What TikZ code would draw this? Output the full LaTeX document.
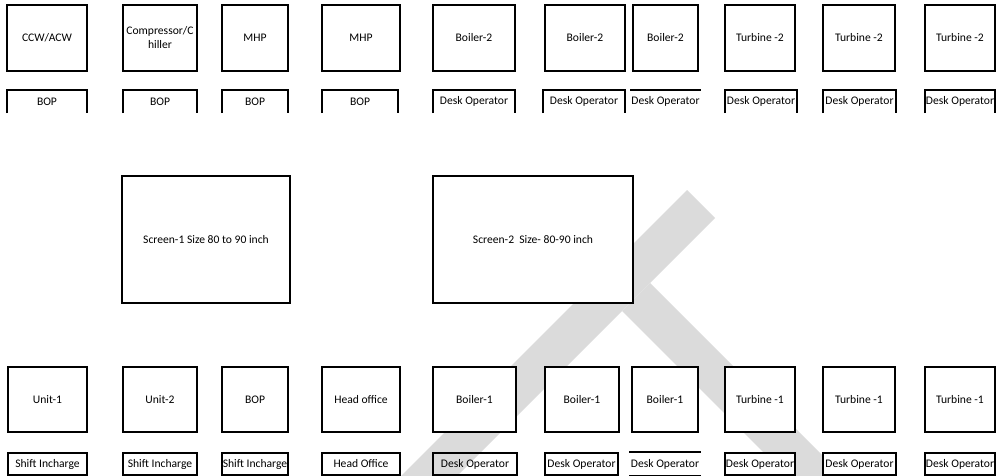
\documentclass[tikz,border=0pt]{standalone}
\usepackage{fontspec}
\setmainfont{Carlito}
\begin{document}
\begin{tikzpicture}[x=1pt,y=-1pt,
  txt/.style={inner sep=1pt, align=center, font=\fontsize{11.6}{14}\selectfont, text=black},
  box/.style={txt, draw=black, line width=1.6pt, fill=white},
  big/.style={box, minimum height=66pt},
  small/.style={txt, fill=white, minimum height=23pt},
  low/.style={box, minimum height=65pt},
  lows/.style={box, minimum height=22pt},
  screen/.style={box, minimum height=127pt},
  edge/.style={draw=black, line width=1.6pt},
  wm/.style={fill=black!14, draw=none}]
\useasboundingbox (0,0) rectangle (1006,476);
% watermark
\fill[wm] (687,190) -- (715,218) -- (457,476) -- (401,476) -- cycle;
\fill[wm] (650,283) -- (843,476) -- (787,476) -- (622,311) -- cycle;
% top row
\node[big, minimum width=80pt] (t1) at (47,38) {CCW/ACW};
\node[big, minimum width=74pt] (t2) at (160,38) {Compressor/C\\hiller};
\node[big, minimum width=66pt] (t3) at (255,38) {MHP};
\node[big, minimum width=78pt] (t4) at (361,38) {MHP};
\node[big, minimum width=82pt] (t5) at (474,38) {Boiler-2};
\node[big, minimum width=80pt] (t6) at (585,38) {Boiler-2};
\node[big, minimum width=65pt] (t7) at (665.5,38) {Boiler-2};
\node[big, minimum width=70pt] (t8) at (760,38) {Turbine -2};
\node[big, minimum width=72pt] (t9) at (859,38) {Turbine -2};
\node[big, minimum width=70pt] (t10) at (960,38) {Turbine -2};
\node[small, minimum width=80pt] (s1) at (47,101.5) {BOP};
\node[small, minimum width=74pt] (s2) at (160,101.5) {BOP};
\node[small, minimum width=66pt] (s3) at (255,101.5) {BOP};
\node[small, minimum width=76pt] (s4) at (360,101.5) {BOP};
\node[small, minimum width=82pt] (s5) at (474,101.5) {Desk Operator};
\node[small, minimum width=82pt] (s6) at (584,101.5) {Desk Operator};
\node[small, minimum width=65pt] (s7) at (665.5,101.5) {Desk Operator};
\node[small, minimum width=72pt] (s8) at (761,101.5) {Desk Operator};
\node[small, minimum width=73pt] (s9) at (859.5,101.5) {Desk Operator};
\node[small, minimum width=70pt] (s10) at (960,101.5) {Desk Operator};
\foreach \n in {s1,s2,s3,s4,s5,s6,s8,s9,s10}
  \draw[edge] (\n.south west) -- (\n.north west) -- (\n.north east) -- (\n.south east);
\draw[edge] (s7.north west) -- (s7.north east);
% screens
\node[screen, minimum width=168pt] (sc1) at (206,239.5) {Screen-1 Size 80 to 90 inch};
\node[screen, minimum width=200pt] (sc2) at (533,239.5) {Screen-2~ Size- 80-90 inch};
% bottom row
\node[low, minimum width=79pt] (b1) at (47.5,399.5) {Unit-1};
\node[low, minimum width=74pt] (b2) at (160,399.5) {Unit-2};
\node[low, minimum width=66pt] (b3) at (255,399.5) {BOP};
\node[low, minimum width=78pt] (b4) at (361,399.5) {Head office};
\node[low, minimum width=83pt] (b5) at (474.5,399.5) {Boiler-1};
\node[low, minimum width=74pt] (b6) at (582,399.5) {Boiler-1};
\node[low, minimum width=66pt] (b7) at (665,399.5) {Boiler-1};
\node[low, minimum width=70pt] (b8) at (760,399.5) {Turbine -1};
\node[low, minimum width=72pt] (b9) at (859,399.5) {Turbine -1};
\node[low, minimum width=70pt] (b10) at (960,399.5) {Turbine -1};
\node[lows, minimum width=79pt] (d1) at (47.5,464) {Shift Incharge};
\node[lows, minimum width=74pt] (d2) at (160,464) {Shift Incharge};
\node[lows, minimum width=66pt] (d3) at (255,464) {Shift Incharge};
\node[lows, minimum width=78pt] (d4) at (361,464) {Head Office};
\node[lows, minimum width=84pt, fill=none] (d5) at (475,464) {Desk Operator};
\node[lows, minimum width=73pt] (d6) at (581.5,464) {Desk Operator};
\node[lows, minimum width=66pt, draw=none] (d7) at (665,464) {Desk Operator};
\draw[edge] (d7.north west) -- (d7.north east) (d7.south west) -- (d7.south east);
\node[lows, minimum width=70pt] (d8) at (760,464) {Desk Operator};
\node[lows, minimum width=73pt] (d9) at (859.5,464) {Desk Operator};
\node[lows, minimum width=70pt] (d10) at (960,464) {Desk Operator};
\end{tikzpicture}
\end{document}
